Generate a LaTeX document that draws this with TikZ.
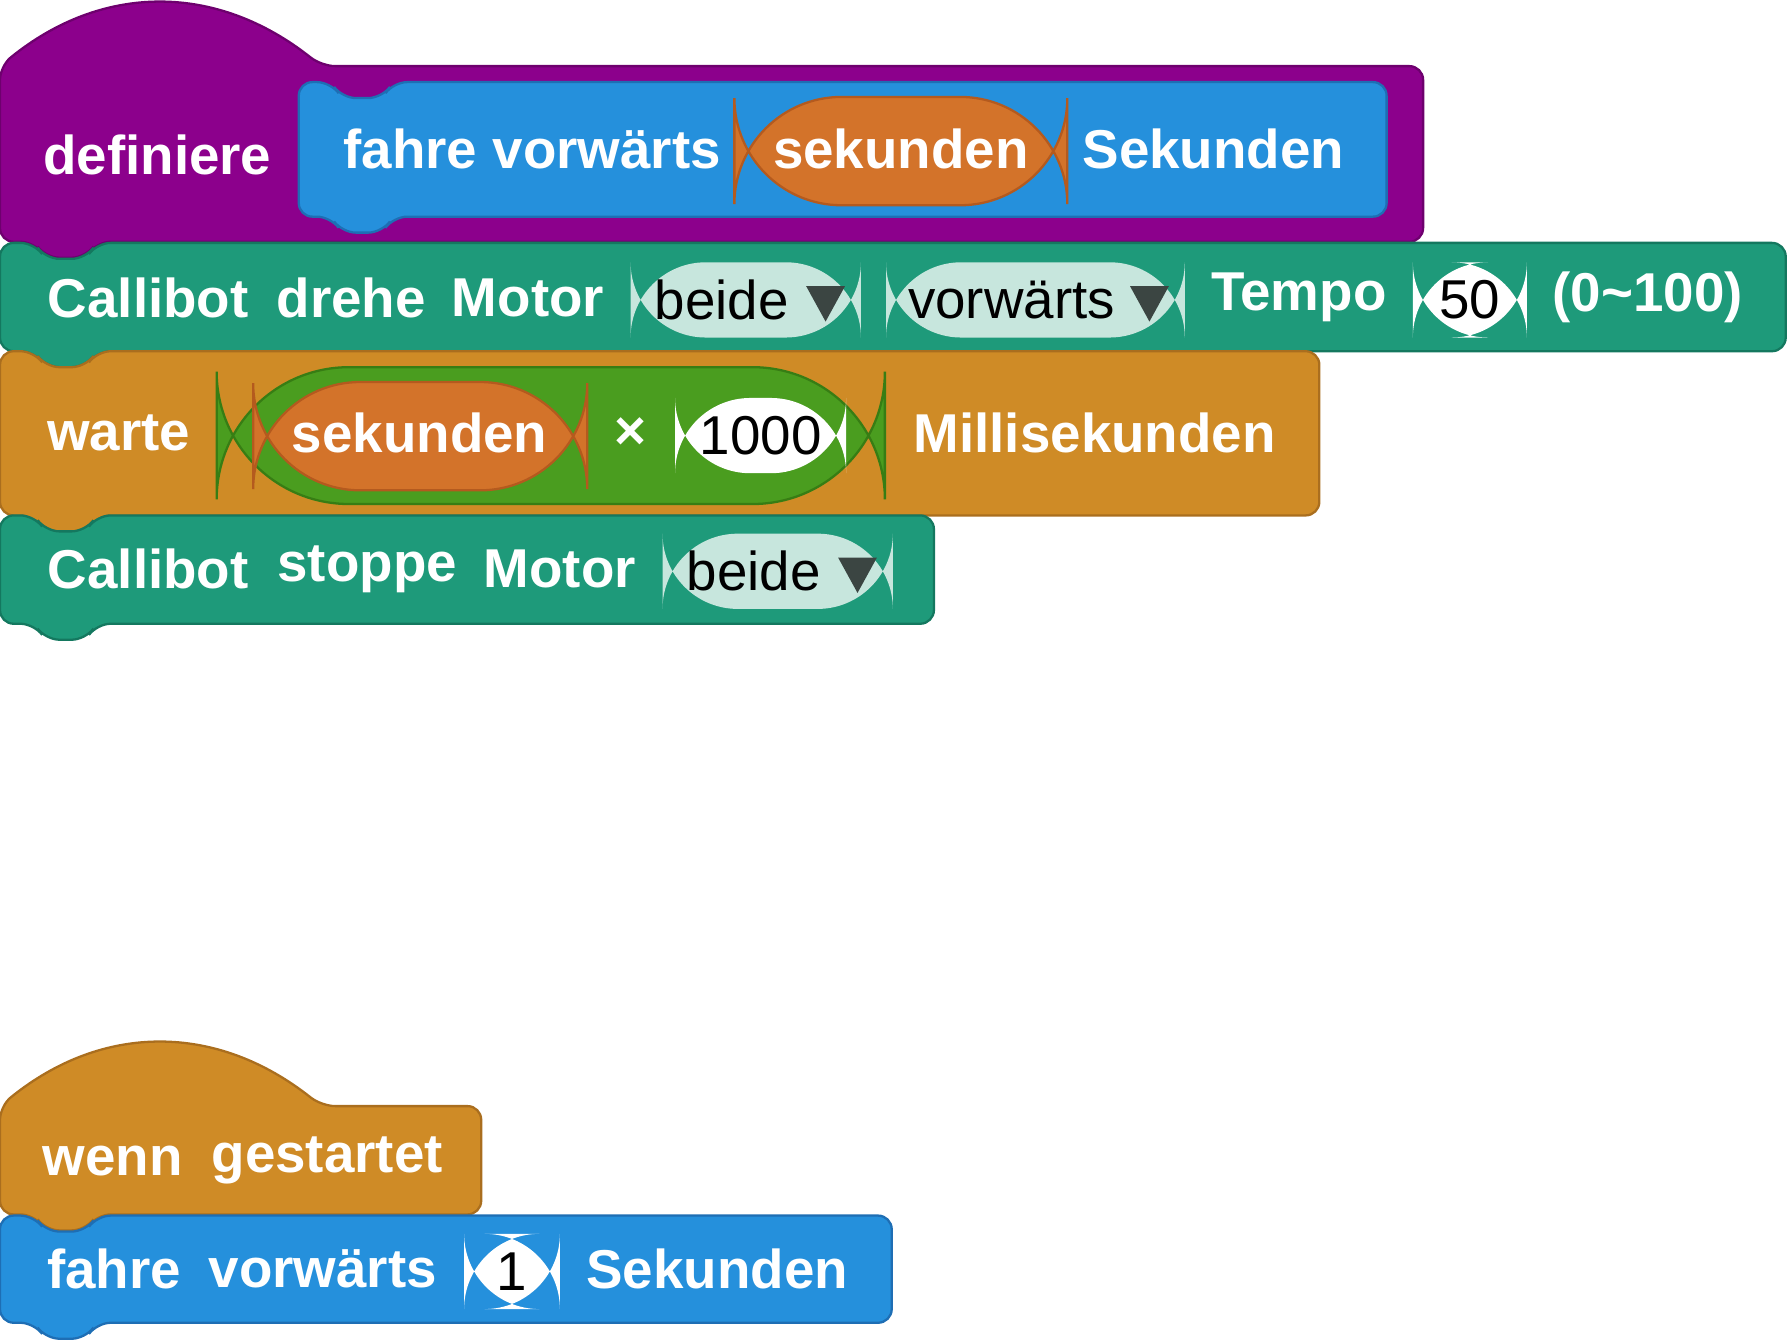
\documentclass[tikz,border=0pt]{standalone}
\usepackage{fontspec}
\setmainfont{Liberation Sans}
\begin{document}
\begin{tikzpicture}[x=0.5pt,y=-0.5pt,
 lbl/.style={text=white,font=\fontsize{24}{28}\selectfont\bfseries,inner sep=0},
 val/.style={text=black,font=\fontsize{24}{28}\selectfont,inner sep=0},
 tri/.style={fill=black!75!teal!60,draw=none}]
\definecolor{purp}{RGB}{140,0,140}\definecolor{purpd}{RGB}{110,0,110}
\definecolor{blu}{RGB}{37,144,220}\definecolor{blud}{RGB}{30,110,180}
\definecolor{tea}{RGB}{30,154,122}\definecolor{tead}{RGB}{20,120,95}
\definecolor{ora}{RGB}{207,139,38}\definecolor{orad}{RGB}{170,110,30}
\definecolor{rep}{RGB}{211,115,42}\definecolor{repd}{RGB}{180,90,30}
\definecolor{grn}{RGB}{74,157,31}\definecolor{grnd}{RGB}{55,125,20}
\definecolor{drop}{RGB}{199,230,221}\definecolor{tric}{RGB}{59,69,66}
\useasboundingbox (0,0) rectangle (1568,1177);
% x1 y1 x2 y2 fill draw ; notch offset 30
\newcommand{\stk}[6]{\draw[fill=#5,draw=#6,line width=1,rounded corners=6]
 (#1,#2) -- (#1+30,#2) -- (#1+40,#2+14) -- (#1+75,#2+14) -- (#1+85,#2) -- (#3,#2) -- (#3,#4)
 -- (#1+85,#4) -- (#1+75,#4+14) -- (#1+40,#4+14) -- (#1+30,#4) -- (#1,#4) -- cycle;}
% define hat
\draw[fill=purp,draw=purpd,line width=1,rounded corners=6] (0,58) .. controls (90,-15) and (190,-15) .. (282,58) -- (1248,58)
 -- (1248,212) -- (85,212) -- (75,226) -- (40,226) -- (30,212) -- (0,212) -- cycle;
\node[lbl] (def) at (138,136) {definiere};
\draw[fill=blu,draw=blud,line width=1,rounded corners=6]
 (262,72) -- (290,72) -- (300,86) -- (335,86) -- (345,72) -- (1216,72) -- (1216,190)
 -- (345,190) -- (335,204) -- (300,204) -- (290,190) -- (262,190) -- cycle;
\node[lbl] (f1) at (360,131) {fahre};
\node[lbl] (f2) at (532,131) {vorwärts};
\draw[fill=rep,draw=repd,line width=1,rounded corners=47] (644,85) rectangle (936,180);
\node[lbl] (s1) at (790,131) {sekunden};
\node[lbl] (s2) at (1064,131) {Sekunden};
% drehe
\stk{0}{213}{1566}{308}{tea}{tead}
\node[lbl] (c1) at (130,261) {Callibot};
\node[lbl] (c2) at (308,261) {drehe};
\node[lbl] (c3) at (463,261) {Motor};
\draw[fill=drop,draw=none,rounded corners=33] (553,230) rectangle (755,296);
\node[val] (b1) at (633,263) {beide};
\fill[tric] (707,251) -- (741,251) -- (724,282) -- cycle;
\draw[fill=drop,draw=none,rounded corners=33] (777,230) rectangle (1039,296);
\node[val] (v1) at (887,263) {vorwärts};
\fill[tric] (991,251) -- (1025,251) -- (1008,282) -- cycle;
\node[lbl] (t1) at (1139,261) {Tempo};
\draw[fill=white,draw=none,rounded corners=33] (1239,230) rectangle (1339,296);
\node[val] (n50) at (1289,263) {50};
\node[lbl] (r1) at (1445,261) {(0\textasciitilde100)};
% warte
\stk{0}{308}{1157}{452}{ora}{orad}
\node[lbl] (w1) at (104,380) {warte};
\draw[fill=grn,draw=grnd,line width=1,rounded corners=58] (190,322) rectangle (776,442);
\draw[fill=rep,draw=repd,line width=1,rounded corners=47] (222,335) rectangle (515,430);
\node[lbl] (s3) at (368,380) {sekunden};
\node[lbl] (x1) at (553,380) {×};
\draw[fill=white,draw=none,rounded corners=33] (592,349) rectangle (742,415);
\node[val] (n1000) at (667,382) {1000};
\node[lbl] (m1) at (960,380) {Millisekunden};
% stoppe
\stk{0}{452}{819}{547}{tea}{tead}
\node[lbl] (c4) at (130,499) {Callibot};
\node[lbl] (c5) at (322,499) {stoppe};
\node[lbl] (c6) at (491,499) {Motor};
\draw[fill=drop,draw=none,rounded corners=33] (581,468) rectangle (783,534);
\node[val] (b2) at (661,501) {beide};
\fill[tric] (735,489) -- (769,489) -- (752,520) -- cycle;
% wenn gestartet
\draw[fill=ora,draw=orad,line width=1,rounded corners=6] (0,970) .. controls (90,897) and (190,897) .. (282,970) -- (422,970)
 -- (422,1065) -- (85,1065) -- (75,1079) -- (40,1079) -- (30,1065) -- (0,1065) -- cycle;
\node[lbl] (g1) at (99,1018) {wenn};
\node[lbl] (g2) at (287,1018) {gestartet};
\stk{0}{1066}{782}{1160}{blu}{blud}
\node[lbl] (f3) at (100,1113) {fahre};
\node[lbl] (f4) at (283,1113) {vorwärts};
\draw[fill=white,draw=none,rounded corners=33] (407,1082) rectangle (491,1148);
\node[val] (n1) at (449,1115) {1};
\node[lbl] (s4) at (629,1113) {Sekunden};
\end{tikzpicture}
\end{document}
